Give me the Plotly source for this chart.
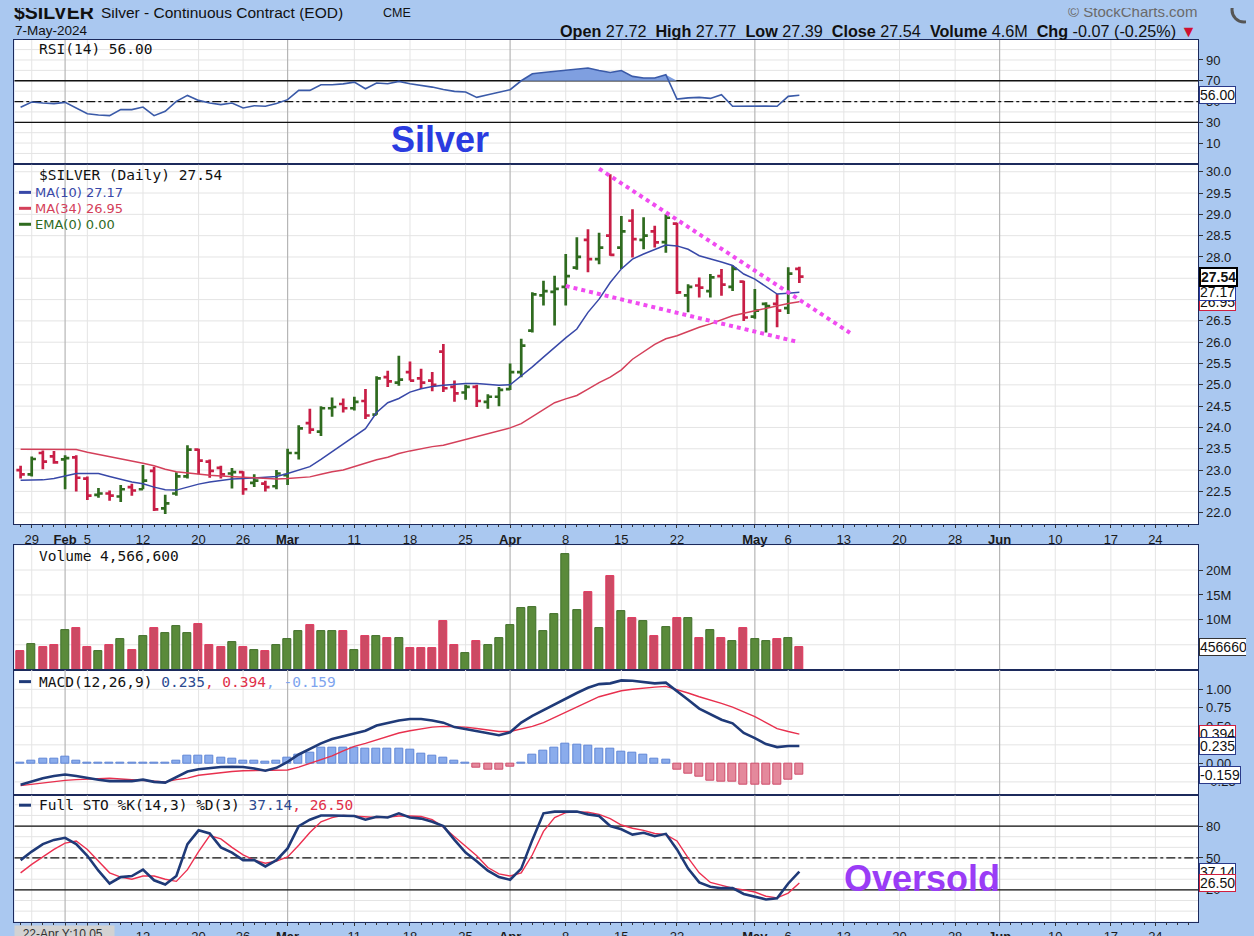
import plotly.graph_objects as go

W, H = 1254, 936
OFF = 8      # the page body margin that the browser adds around the figure
S = 0.995    # small vertical fit factor observed in the photographed page

# ---------------- data ----------------
dates = ["Jan 26", "Jan 29", "Jan 30", "Jan 31", "Feb 1", "Feb 2", "Feb 5", "Feb 6", "Feb 7", "Feb 8",
         "Feb 9", "Feb 12", "Feb 13", "Feb 14", "Feb 15", "Feb 16", "Feb 20", "Feb 21", "Feb 22", "Feb 23",
         "Feb 26", "Feb 27", "Feb 28", "Feb 29", "Mar 1", "Mar 4", "Mar 5", "Mar 6", "Mar 7", "Mar 8",
         "Mar 11", "Mar 12", "Mar 13", "Mar 14", "Mar 15", "Mar 18", "Mar 19", "Mar 20", "Mar 21", "Mar 22",
         "Mar 25", "Mar 26", "Mar 27", "Mar 28", "Apr 1", "Apr 2", "Apr 3", "Apr 4", "Apr 5", "Apr 8",
         "Apr 9", "Apr 10", "Apr 11", "Apr 12", "Apr 15", "Apr 16", "Apr 17", "Apr 18", "Apr 19", "Apr 22",
         "Apr 23", "Apr 24", "Apr 25", "Apr 26", "Apr 29", "Apr 30", "May 1", "May 2", "May 3", "May 6",
         "May 7"]

opens = [23.00, 22.90, 23.40, 23.32, 23.25, 23.30, 22.80, 22.42, 22.45, 22.38,
         22.60, 22.55, 22.98, 22.10, 22.45, 22.85, 23.48, 23.20, 23.05, 22.92,
         22.95, 22.70, 22.68, 22.62, 22.88, 23.40, 24.10, 23.90, 24.45, 24.55,
         24.45, 24.62, 24.30, 25.18, 25.05, 25.30, 25.15, 25.10, 25.78, 24.95,
         24.82, 24.95, 24.60, 24.72, 24.90, 25.30, 26.27, 27.10, 27.18, 27.30,
         27.75, 28.40, 27.95, 28.50, 28.22, 28.85, 28.40, 28.60, 28.35, 28.78,
         27.10, 27.33, 27.20, 27.55, 27.30, 27.42, 26.60, 26.90, 26.90, 26.80,
         27.72]
highs = [23.10, 23.32, 23.46, 23.45, 23.35, 23.35, 22.85, 22.58, 22.52, 22.65,
         22.68, 23.12, 23.08, 22.42, 22.95, 23.58, 23.50, 23.25, 23.10, 23.05,
         22.97, 22.90, 22.75, 23.00, 23.50, 24.05, 24.44, 24.50, 24.70, 24.68,
         24.72, 24.90, 25.20, 25.33, 25.68, 25.55, 25.38, 25.30, 25.96, 25.10,
         25.00, 25.00, 24.78, 24.95, 25.50, 26.08, 27.17, 27.44, 27.56, 28.07,
         28.46, 28.65, 28.57, 29.94, 28.96, 29.12, 28.93, 28.73, 29.00, 28.80,
         27.36, 27.52, 27.60, 27.72, 27.80, 27.44, 27.25, 26.94, 27.13, 27.76,
         27.77]
lows = [22.80, 22.85, 23.02, 23.15, 22.55, 22.50, 22.30, 22.35, 22.28, 22.25,
        22.40, 22.55, 22.04, 21.97, 22.40, 22.80, 22.90, 22.82, 22.80, 22.57,
        22.42, 22.60, 22.50, 22.55, 22.65, 23.25, 23.85, 23.80, 24.25, 24.35,
        24.40, 24.20, 24.30, 24.95, 24.98, 25.10, 24.90, 24.85, 24.83, 24.60,
        24.65, 24.48, 24.44, 24.50, 24.88, 25.18, 26.23, 26.86, 26.39, 26.86,
        27.70, 27.64, 27.83, 28.03, 27.72, 27.99, 28.18, 28.22, 28.10, 27.13,
        26.70, 27.05, 27.05, 27.09, 27.20, 26.50, 26.55, 26.23, 26.35, 26.66,
        27.39]
closes = [22.90, 23.26, 23.20, 23.18, 23.28, 22.82, 22.40, 22.45, 22.40, 22.55,
          22.52, 22.75, 22.08, 22.22, 22.85, 23.48, 23.22, 22.98, 22.90, 22.95,
          22.55, 22.75, 22.60, 22.92, 23.40, 23.98, 23.95, 24.45, 24.48, 24.45,
          24.60, 24.28, 25.15, 25.08, 25.12, 25.10, 25.05, 25.00, 24.92, 24.80,
          24.95, 24.62, 24.72, 24.88, 25.30, 25.92, 27.12, 27.20, 27.25, 27.55,
          28.00, 27.95, 28.22, 28.05, 28.60, 28.42, 28.50, 28.34, 28.92, 27.17,
          27.30, 27.28, 27.52, 27.35, 27.72, 26.58, 26.74, 26.85, 26.74, 27.61,
          27.54]
direction = ["d", "u", "d", "d", "u", "d", "d", "u", "d", "u",
             "d", "u", "d", "u", "u", "u", "d", "d", "d", "u",
             "d", "u", "d", "u", "u", "u", "d", "u", "u", "d",
             "u", "d", "u", "d", "u", "d", "d", "d", "d", "d",
             "u", "d", "u", "u", "u", "u", "u", "u", "u", "u",
             "u", "d", "u", "d", "u", "d", "u", "d", "u", "d",
             "u", "d", "u", "d", "u", "d", "u", "u", "d", "u",
             "d"]

ma10 = [22.76, 22.76, 22.77, 22.80, 22.86, 22.92, 22.92, 22.92, 22.85, 22.78,
        22.72, 22.68, 22.60, 22.54, 22.53, 22.60, 22.67, 22.72, 22.76, 22.79,
        22.80, 22.82, 22.84, 22.85, 22.92, 23.00, 23.08, 23.25, 23.43, 23.60,
        23.80, 23.97, 24.35, 24.58, 24.68, 24.83, 24.91, 24.96, 24.99, 25.01,
        25.03, 25.03, 25.01, 24.99, 25.00, 25.20, 25.42, 25.65, 25.88, 26.10,
        26.31, 26.70, 27.01, 27.40, 27.72, 27.95, 28.07, 28.18, 28.28, 28.26,
        28.18, 28.03, 27.96, 27.88, 27.80, 27.60, 27.48, 27.30, 27.13, 27.15,
        27.17]
ma34 = [23.49, 23.49, 23.49, 23.49, 23.49, 23.48, 23.42, 23.37, 23.32, 23.27,
        23.22, 23.16, 23.10, 23.02, 22.96, 22.93, 22.90, 22.88, 22.86, 22.84,
        22.83, 22.82, 22.80, 22.79, 22.80, 22.82, 22.84, 22.90, 22.96, 23.00,
        23.08, 23.17, 23.24, 23.30, 23.39, 23.45, 23.50, 23.55, 23.58, 23.65,
        23.72, 23.78, 23.85, 23.92, 23.99, 24.09, 24.25, 24.42, 24.58, 24.67,
        24.75, 24.90, 25.05, 25.18, 25.35, 25.60, 25.78, 25.95, 26.08, 26.15,
        26.25, 26.35, 26.43, 26.52, 26.62, 26.68, 26.74, 26.80, 26.86, 26.91,
        26.95]

volume_m = [3.7, 5.2, 4.6, 4.9, 8.0, 8.3, 4.6, 3.7, 4.9, 6.2,
            4.0, 6.8, 8.3, 7.3, 8.8, 7.3, 9.2, 4.9, 4.6, 5.5,
            4.6, 4.0, 3.7, 4.9, 6.2, 7.7, 8.95, 7.7, 7.7, 7.7,
            4.0, 6.8, 6.8, 6.4, 6.4, 4.3, 4.3, 4.3, 9.8, 4.9,
            3.3, 5.8, 4.9, 6.4, 8.95, 12.3, 12.6, 7.7, 11.1, 23.1,
            12.0, 15.5, 8.3, 18.7, 11.7, 10.4, 9.8, 6.8, 8.6, 10.4,
            10.4, 6.4, 8.0, 6.4, 5.8, 8.3, 6.2, 5.8, 6.2, 6.4,
            4.5666]

rsi = [44.5, 49.5, 48.6, 48.0, 49.2, 44.0, 38.3, 37.0, 36.4, 42.2,
       42.2, 44.7, 36.4, 40.6, 50.2, 55.9, 51.1, 48.6, 47.0, 48.6,
       43.8, 46.0, 45.4, 48.0, 51.8, 60.7, 60.7, 66.2, 66.2, 67.0,
       68.7, 62.3, 67.8, 67.1, 69.4, 67.1, 65.5, 63.9, 61.5, 59.8,
       59.1, 54.0, 56.6, 59.0, 61.4, 70.0, 76.7, 78.0, 79.2, 79.9,
       81.0, 82.2, 79.9, 78.0, 79.9, 74.2, 72.6, 72.6, 75.8, 52.4,
       53.5, 54.0, 53.0, 56.6, 45.4, 45.6, 46.0, 45.6, 45.4, 55.0,
       56.0]

macd = [-0.29, -0.24, -0.20, -0.17, -0.15, -0.17, -0.20, -0.22, -0.24, -0.24,
        -0.24, -0.22, -0.25, -0.26, -0.18, -0.11, -0.08, -0.065, -0.05, -0.045,
        -0.05, -0.07, -0.10, -0.06, 0.02, 0.12, 0.20, 0.27, 0.33, 0.37,
        0.40, 0.44, 0.51, 0.55, 0.58, 0.60, 0.60, 0.58, 0.55, 0.49,
        0.46, 0.43, 0.41, 0.38, 0.42, 0.55, 0.64, 0.72, 0.80, 0.88,
        0.95, 1.02, 1.07, 1.08, 1.12, 1.115, 1.10, 1.08, 1.09, 0.98,
        0.86, 0.74, 0.66, 0.59, 0.54, 0.41, 0.34, 0.26, 0.22, 0.235,
        0.235]
macd_signal = [-0.30, -0.28, -0.26, -0.24, -0.23, -0.22, -0.21, -0.20, -0.20, -0.21,
               -0.22, -0.23, -0.24, -0.25, -0.22, -0.20, -0.16, -0.14, -0.12, -0.11,
               -0.10, -0.10, -0.10, -0.095, -0.09, -0.05, 0.00, 0.05, 0.10, 0.17,
               0.23, 0.27, 0.32, 0.37, 0.41, 0.44, 0.47, 0.49, 0.50, 0.50,
               0.49, 0.47, 0.45, 0.43, 0.43, 0.46, 0.50, 0.55, 0.62, 0.70,
               0.77, 0.83, 0.90, 0.94, 0.98, 1.00, 1.02, 1.03, 1.04, 1.00,
               0.95, 0.90, 0.86, 0.81, 0.76, 0.70, 0.63, 0.55, 0.47, 0.43,
               0.394]
macd_hist = [0.01, 0.03, 0.065, 0.068, 0.085, 0.04, 0.008, 0.005, 0.004, 0.004,
             0.005, 0.01, 0.004, 0.003, 0.035, 0.10, 0.10, 0.10, 0.077, 0.068,
             0.04, 0.036, 0.02, 0.03, 0.077, 0.114, 0.146, 0.21, 0.214, 0.214,
             0.214, 0.195, 0.20, 0.20, 0.20, 0.182, 0.128, 0.10, 0.077, 0.03,
             0.003, -0.055, -0.082, -0.082, -0.045, 0.003, 0.114, 0.173, 0.218, 0.26,
             0.25, 0.237, 0.205, 0.196, 0.16, 0.146, 0.114, 0.068, 0.045, -0.082,
             -0.137, -0.182, -0.237, -0.25, -0.25, -0.282, -0.282, -0.282, -0.282, -0.219,
             -0.159]

sto_k = [48, 56, 63, 67, 69, 63, 52, 38, 26, 32,
         33, 39, 29, 25, 33, 63, 76, 73, 60, 55,
         48, 48, 42, 48, 59, 80, 86, 90, 90, 90,
         89.5, 86, 88.8, 88, 92, 88, 87, 84, 80, 67,
         55, 47, 38, 32, 29.5, 40, 67, 92, 93.6, 93.6,
         93.6, 91, 89.5, 80, 77, 72, 73.7, 70.5, 72.7, 58,
         40, 27, 23, 21.6, 21.6, 16.2, 13.7, 11, 12, 26,
         37.14]
sto_d = [36, 44, 51, 58, 64, 66, 58, 47, 36, 32,
         30, 33, 33, 30, 28, 39, 56, 71, 68, 60,
         53, 48, 45, 47, 51, 62, 74, 84, 88, 90,
         89.5, 88.5, 88, 88.5, 89.5, 89.5, 89, 86, 79, 70,
         61, 52, 41, 35, 33, 36, 53, 75, 88, 92.6,
         93.3, 93, 91, 87, 81, 78, 76, 73, 72, 66,
         50, 36, 27, 24, 21.6, 20, 18, 14, 12.5, 17,
         26.5]

# hand-drawn wedge trend lines (bar index, price)
upper_trend_x = [52.0, 74.55]
upper_trend_y = [30.07, 26.22]
lower_trend_x = [49.0, 69.8]
lower_trend_y = [27.32, 26.01]

# date axis labels (trading-day index)
tick_pos = [1, 4, 6, 11, 16, 20, 24, 30, 35, 40, 44, 49, 54, 59, 66, 69, 74, 79, 84, 88, 93, 98, 102]
tick_text = ["29", "Feb", "5", "12", "20", "26", "Mar", "11", "18", "25", "Apr", "8", "15", "22",
             "May", "6", "13", "20", "28", "Jun", "10", "17", "24"]
month_labels = ["Feb", "Mar", "Apr", "May", "Jun"]

price_ticks = [22.0, 22.5, 23.0, 23.5, 24.0, 24.5, 25.0, 25.5, 26.0, 26.5, 27.0, 27.5, 28.0, 28.5, 29.0, 29.5, 30.0]
rsi_ticks = [10, 30, 50, 70, 90]
rsi_grid = [0, 10, 20, 30, 40, 50, 60, 70, 80, 90, 100]
vol_ticks = [5e6, 10e6, 15e6, 20e6]
vol_tick_text = ["5M", "10M", "15M", "20M"]
macd_ticks = [-0.25, 0.0, 0.25, 0.5, 0.75, 1.0]
sto_ticks = [20, 50, 80]
sto_grid = [0, 10, 20, 30, 40, 50, 60, 70, 80, 90, 100]

# ---------------- styling ----------------
BG = "#aac8f0"
FRAME = "#1c2a5c"
GRID = "#e4e4e4"
MONTHGRID = "#b6b6b6"
GREEN = "#2f6b1f"
RED = "#c81e46"
VGREEN = "#5a8a3a"
VGREEN_E = "#3f6e28"
VRED = "#cc4a64"
VRED_E = "#e0345a"
BLUE_MA = "#3848a8"
RED_MA = "#d4405a"
DARKBLUE = "#1f3a78"
LBL = "DejaVu Sans Mono, monospace"
AX = "Liberation Sans, Arial, sans-serif"

XMIN, XMAX = -0.566, 105.86


def px(x):
    return (x - OFF) / W


def py(y):
    return 1 - (y / S - OFF) / H


X0, X1 = px(14.3), px(1198.3)

panels = {
    "rsi": (40, 165),
    "price": (165, 526),
    "vol": (547, 672),
    "macd": (672, 798),
    "sto": (798, 925),
}
yranges = {
    "rsi": [-10.6, 109.3],
    "price": [21.73, 30.17],
    "vol": [0, 25.0e6],
    "macd": [-0.43, 1.265],
    "sto": [-10, 109],
}
axis_ids = {"rsi": ("x", "y"), "price": ("x2", "y2"), "vol": ("x3", "y3"), "macd": ("x4", "y4"), "sto": ("x5", "y5")}

idx = list(range(len(dates)))

fig = go.Figure()

# reference lines as first traces of their panels (under the indicator lines)
for panel, levels in (("rsi", (70, 30)), ("sto", (80, 20))):
    xa, ya = axis_ids[panel]
    for lv in levels:
        fig.add_trace(go.Scatter(x=[XMIN, XMAX], y=[lv, lv], mode="lines", line=dict(color="#111", width=1.3),
                                 xaxis=xa, yaxis=ya, hoverinfo="skip"))
    fig.add_trace(go.Scatter(x=[XMIN, XMAX], y=[50, 50], mode="lines",
                             line=dict(color="#111", width=1.3, dash="dashdot"),
                             xaxis=xa, yaxis=ya, hoverinfo="skip"))

# RSI -------------------------------------------------------------
rsi_cap = [max(v, 70) for v in rsi]
fig.add_trace(go.Scatter(x=idx, y=[70] * len(idx), mode="lines", line=dict(width=0, color="rgba(0,0,0,0)"),
                         xaxis="x", yaxis="y", hoverinfo="skip"))
fig.add_trace(go.Scatter(x=idx, y=rsi_cap, mode="lines", line=dict(width=0, color="rgba(0,0,0,0)"),
                         fill="tonexty", fillcolor="#7f9fe0", xaxis="x", yaxis="y", hoverinfo="skip"))
fig.add_trace(go.Scatter(x=idx, y=rsi, mode="lines", line=dict(color="#3a5aa8", width=1.6),
                         xaxis="x", yaxis="y"))

# Price -----------------------------------------------------------
for d, col in (("u", GREEN), ("d", RED)):
    sel = [i for i in idx if direction[i] == d]
    fig.add_trace(go.Ohlc(x=sel, open=[opens[i] for i in sel], high=[highs[i] for i in sel],
                          low=[lows[i] for i in sel], close=[closes[i] for i in sel],
                          increasing=dict(line=dict(color=col, width=2.7)),
                          decreasing=dict(line=dict(color=col, width=2.7)),
                          tickwidth=0.38, xaxis="x2", yaxis="y2"))
fig.add_trace(go.Scatter(x=idx, y=ma10, mode="lines", line=dict(color=BLUE_MA, width=1.5), xaxis="x2", yaxis="y2"))
fig.add_trace(go.Scatter(x=idx, y=ma34, mode="lines", line=dict(color=RED_MA, width=1.5), xaxis="x2", yaxis="y2"))
fig.add_trace(go.Scatter(x=upper_trend_x, y=upper_trend_y, mode="lines",
                         line=dict(color="#f04cf0", width=4, dash="dot"), xaxis="x2", yaxis="y2"))
fig.add_trace(go.Scatter(x=lower_trend_x, y=lower_trend_y, mode="lines",
                         line=dict(color="#f04cf0", width=4, dash="dot"), xaxis="x2", yaxis="y2"))

# Volume ----------------------------------------------------------
fig.add_trace(go.Bar(x=idx, y=[v * 1e6 for v in volume_m], width=0.72,
                     marker=dict(color=[VGREEN if d == "u" else VRED for d in direction],
                                 line=dict(color=[VGREEN_E if d == "u" else VRED_E for d in direction], width=1)),
                     xaxis="x3", yaxis="y3"))

# MACD ------------------------------------------------------------
fig.add_trace(go.Bar(x=idx, y=macd_hist, width=0.72,
                     marker=dict(color=["#8aacec" if v >= 0 else "#e4899c" for v in macd_hist],
                                 line=dict(color=["#5f86d6" if v >= 0 else "#cf4d6c" for v in macd_hist], width=1)),
                     xaxis="x4", yaxis="y4"))
fig.add_trace(go.Scatter(x=idx, y=macd_signal, mode="lines", line=dict(color="#e8304e", width=1.4), xaxis="x4", yaxis="y4"))
fig.add_trace(go.Scatter(x=idx, y=macd, mode="lines", line=dict(color=DARKBLUE, width=2.6), xaxis="x4", yaxis="y4"))

# STO -------------------------------------------------------------
fig.add_trace(go.Scatter(x=idx, y=sto_d, mode="lines", line=dict(color="#ec3050", width=1.4), xaxis="x5", yaxis="y5"))
fig.add_trace(go.Scatter(x=idx, y=sto_k, mode="lines", line=dict(color=DARKBLUE, width=2.6), xaxis="x5", yaxis="y5"))

# ---------------- axes ----------------
tick_labels = ["<b>%s</b>" % t if t in month_labels else t for t in tick_text]


def xaxis_cfg(show_labels):
    d = dict(domain=[X0, X1], range=[XMIN, XMAX], tickmode="array", tickvals=tick_pos,
             ticktext=tick_labels, showticklabels=show_labels,
             ticks="outside" if show_labels else "", ticklen=3, tickcolor="#333",
             tickfont=dict(family=AX, size=13, color="#1a1a1a"),
             showgrid=False, zeroline=False,
             showline=True, mirror=True, linecolor=FRAME, linewidth=1.2,
             rangeslider=dict(visible=False), fixedrange=True)
    if show_labels:
        d["minor"] = dict(tickmode="linear", tick0=0, dtick=1, ticks="outside", ticklen=2, tickcolor="#333")
    return d


def yaxis_cfg(panel, tickvals, ticktext):
    top, bot = panels[panel]
    return dict(domain=[py(bot), py(top)], range=yranges[panel], side="right", tickmode="array",
                tickvals=tickvals, ticktext=ticktext,
                ticks="outside", ticklen=4, tickcolor="#333",
                tickfont=dict(family=AX, size=13, color="#1a1a1a"),
                showgrid=False, zeroline=False,
                showline=True, mirror=True, linecolor=FRAME, linewidth=1.2, fixedrange=True)


layout = dict(
    width=W, height=H, autosize=False, margin=dict(l=0, r=0, t=0, b=0),
    paper_bgcolor=BG, plot_bgcolor="white", showlegend=False, bargap=0,
    xaxis=xaxis_cfg(False),
    xaxis2=xaxis_cfg(True),
    xaxis3=xaxis_cfg(False),
    xaxis4=xaxis_cfg(False),
    xaxis5=xaxis_cfg(True),
    yaxis=yaxis_cfg("rsi", rsi_ticks, [str(t) for t in rsi_ticks]),
    yaxis2=yaxis_cfg("price", price_ticks, ["%.1f" % t for t in price_ticks]),
    yaxis3=yaxis_cfg("vol", vol_ticks, vol_tick_text),
    yaxis4=yaxis_cfg("macd", macd_ticks, ["%.2f" % t for t in macd_ticks]),
    yaxis5=yaxis_cfg("sto", sto_ticks, [str(t) for t in sto_ticks]),
)
for i, k in enumerate(("xaxis", "xaxis2", "xaxis3", "xaxis4", "xaxis5")):
    layout[k]["anchor"] = "y" if i == 0 else "y%d" % (i + 1)
for i, k in enumerate(("yaxis", "yaxis2", "yaxis3", "yaxis4", "yaxis5")):
    layout[k]["anchor"] = "x" if i == 0 else "x%d" % (i + 1)
fig.update_layout(**layout)

# ---------------- grid shapes (below traces) ----------------
hgrid = {
    "rsi": rsi_grid,
    "price": price_ticks,
    "vol": vol_ticks,
    "macd": macd_ticks,
    "sto": sto_grid,
}
shapes = []
for panel, (xa, ya) in axis_ids.items():
    y0, y1 = yranges[panel]
    for v in hgrid[panel]:
        shapes.append(dict(type="line", xref=xa, yref=ya, x0=XMIN, x1=XMAX, y0=v, y1=v,
                           line=dict(color=GRID, width=1), layer="below"))
    for t, pos in zip(tick_text, tick_pos):
        col = MONTHGRID if t in month_labels else GRID
        shapes.append(dict(type="line", xref=xa, yref=ya, x0=pos, x1=pos, y0=y0, y1=y1,
                           line=dict(color=col, width=1.2 if t in month_labels else 1), layer="below"))
# legend dashes
for y, col in ((193, BLUE_MA), (209, RED_MA), (225, GREEN), (684, DARKBLUE), (808, DARKBLUE)):
    shapes.append(dict(type="line", xref="paper", yref="paper", x0=px(19), x1=px(31), y0=py(y), y1=py(y),
                       line=dict(color=col, width=3)))
# StockCharts logo ring (top right corner, partly cut)
shapes.append(dict(type="circle", xref="paper", yref="paper", x0=px(1232), x1=px(1256), y0=py(22), y1=py(-2),
                   line=dict(color="#555", width=3), fillcolor="rgba(0,0,0,0)"))
fig.update_layout(shapes=shapes)

# ---------------- annotations ----------------
ann = []


def text(x, y, t, size, color="#111", family=AX, anchor="left", bg=None):
    a = dict(x=px(x), y=py(y), xref="paper", yref="paper", xanchor=anchor, yanchor="middle",
             text=t, showarrow=False, font=dict(family=family, size=size, color=color))
    if bg:
        a["bgcolor"] = bg
    ann.append(a)


text(12, 12, "<b>$SILVER</b>", 19.5, "#111", AX)
text(99, 12, "Silver - Continuous Contract (EOD)", 15.5, "#111", AX)
text(381, 13, "CME", 12.5, "#111", AX)
text(13, 31, "7-May-2024", 13.5, "#111", AX)
text(1199, 11, "© StockCharts.com", 15, "#6a6a6a", AX, "right")
text(1199, 31, "<b>Open</b> 27.72  <b>High</b> 27.77  <b>Low</b> 27.39  <b>Close</b> 27.54  "
               "<b>Volume</b> 4.6M  <b>Chg</b> -0.07 (-0.25%) <span style='color:#d01030'>▼</span>",
     16.2, "#111", AX, "right")

text(37, 49, "RSI(14) 56.00", 14.5, "#111", LBL)
text(37, 176, "$SILVER (Daily) 27.54", 14.5, "#111", LBL)
text(33, 193, "MA(10) 27.17", 13, BLUE_MA, "DejaVu Sans")
text(33, 209, "MA(34) 26.95", 13, RED_MA, "DejaVu Sans")
text(33, 225, "EMA(0) 0.00", 13, GREEN, "DejaVu Sans")
text(37, 558, "Volume 4,566,600", 14.5, "#111", LBL)
text(37, 684, "MACD(12,26,9) <span style='color:#2b4a90'>0.235</span><span style='color:#e0304a'>, 0.394</span>"
              "<span style='color:#7ea4ee'>, -0.159</span>", 14.5, "#111", LBL)
text(37, 808, "Full STO %K(14,3) %D(3) <span style='color:#2b4a90'>37.14</span>"
              "<span style='color:#e0304a'>, 26.50</span>", 14.5, "#111", LBL)

text(440, 140, "<b>Silver</b>", 36, "#2a3be0", AX, "center")
text(922, 882, "<b>Oversold</b>", 36, "#9a3cf6", AX, "center")
text(14, 937, "  22-Apr Y:10.05   ", 12, "#333", AX, "left", "#d2d2d2")


def vbox(t, yref, val, border, bold=False, bw=1):
    ann.append(dict(x=px(1199), xref="paper", y=val, yref=yref, xanchor="left", yanchor="middle",
                    text="<b>%s</b>" % t if bold else t, showarrow=False,
                    font=dict(family=AX, size=14, color="#111"),
                    bgcolor="white", bordercolor=border, borderwidth=bw, borderpad=0))


vbox("56.00", "y", 56.0, "#2a3a8a")
vbox("26.95", "y2", 26.95, "#d02040")
vbox("27.17", "y2", 27.17, "#2a3aa8")
vbox("27.54", "y2", 27.54, "#000", bold=True, bw=2)
vbox("4566600", "y3", 4.5666e6, "#333")
vbox("0.394", "y4", 0.394, "#d02040")
vbox("0.235", "y4", 0.235, "#2a3a8a")
vbox("-0.159", "y4", -0.159, "#2a3a8a")
vbox("37.14", "y5", 37.14, "#2a3a8a")
vbox("26.50", "y5", 26.5, "#d02040")

fig.update_layout(annotations=ann)

fig.write_html("out.html", config={"displayModeBar": False},
               post_script="document.body.style.background='%s';"
                           "document.documentElement.style.background='%s';" % (BG, BG))
